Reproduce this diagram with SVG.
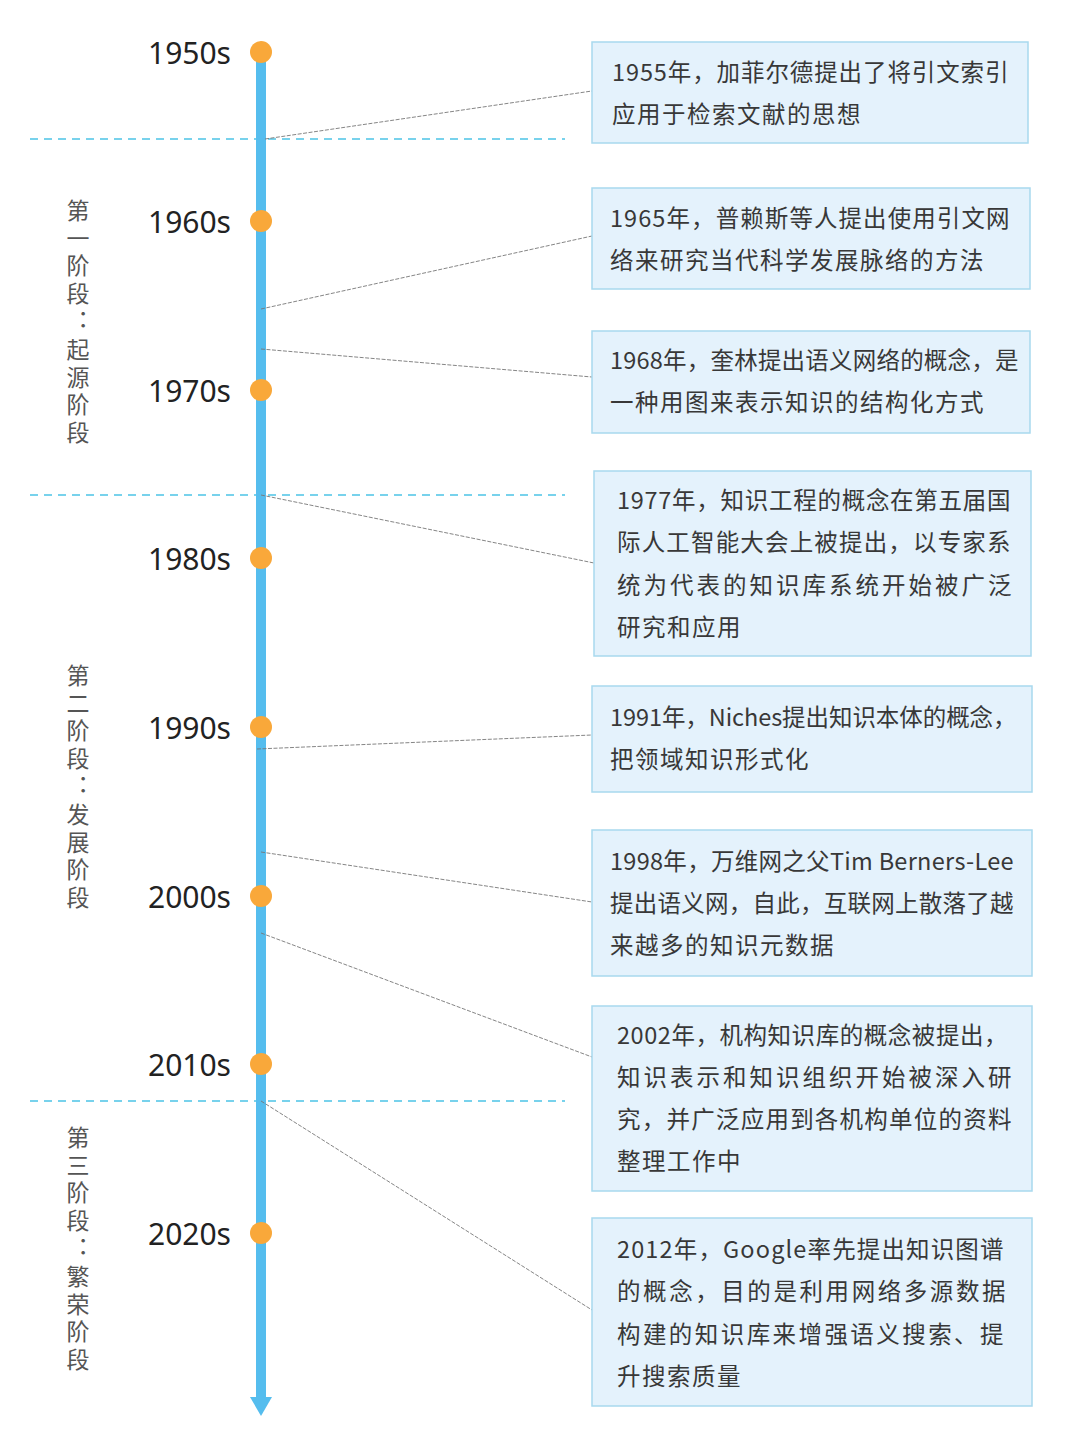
<svg xmlns="http://www.w3.org/2000/svg" width="1080" height="1443" viewBox="0 0 1080 1443">
<style>
.year{font-family:"Noto Sans","Noto Sans CJK SC",sans-serif;font-size:30px;fill:#222;text-anchor:end;dominant-baseline:central}
.dot{fill:#f9a83a}
.sep{stroke:#4cc3e6;stroke-width:1.3;stroke-dasharray:8 6;fill:none}
.box{fill:#e4f2fc;stroke:#a8d9ee;stroke-width:1.5}
.t{font-family:"Noto Sans CJK SC","Noto Sans",sans-serif;font-size:23.5px;letter-spacing:1.5px;fill:#383838;dominant-baseline:central}
.stage{font-family:"Noto Sans CJK SC",sans-serif;font-size:23px;fill:#555;writing-mode:vertical-rl;text-orientation:upright;letter-spacing:4.8px}
.con{stroke:#777;stroke-width:0.9;stroke-dasharray:4 1.5;fill:none}
</style>
<rect width="1080" height="1443" fill="#fff"/>
<g id="separators">
<line class="sep" x1="30" y1="139" x2="565" y2="139"/>
<line class="sep" x1="30" y1="495" x2="565" y2="495"/>
<line class="sep" x1="30" y1="1101" x2="565" y2="1101"/>
</g>
<g id="timeline">
<rect x="256" y="52" width="10" height="1350" fill="#55bdee"/>
<polygon points="250,1397 272,1397 261,1416" fill="#55bdee"/>
</g>
<g id="connectors">
<line class="con" x1="265" y1="139" x2="592" y2="91"/>
<line class="con" x1="261" y1="309" x2="592" y2="236"/>
<line class="con" x1="261" y1="349" x2="592" y2="377"/>
<line class="con" x1="261" y1="495" x2="594" y2="563"/>
<line class="con" x1="257" y1="749" x2="592" y2="735"/>
<line class="con" x1="261" y1="852" x2="592" y2="902"/>
<line class="con" x1="261" y1="933" x2="592" y2="1057"/>
<line class="con" x1="261" y1="1101" x2="592" y2="1310"/>
</g>
<g id="y1950"><circle class="dot" cx="261" cy="52" r="11"/><text class="year" x="231" y="52">1950s</text></g>
<g id="y1960"><circle class="dot" cx="261" cy="221" r="11"/><text class="year" x="231" y="221">1960s</text></g>
<g id="y1970"><circle class="dot" cx="261" cy="390" r="11"/><text class="year" x="231" y="390">1970s</text></g>
<g id="y1980"><circle class="dot" cx="261" cy="558" r="11"/><text class="year" x="231" y="558">1980s</text></g>
<g id="y1990"><circle class="dot" cx="261" cy="727" r="11"/><text class="year" x="231" y="727">1990s</text></g>
<g id="y2000"><circle class="dot" cx="261" cy="896" r="11"/><text class="year" x="231" y="896">2000s</text></g>
<g id="y2010"><circle class="dot" cx="261" cy="1064" r="11"/><text class="year" x="231" y="1064">2010s</text></g>
<g id="y2020"><circle class="dot" cx="261" cy="1233" r="11"/><text class="year" x="231" y="1233">2020s</text></g>
<g id="stage1"><text class="stage" x="78" y="198.5">第一阶段：起源阶段</text></g>
<g id="stage2"><text class="stage" x="78" y="663.5">第二阶段：发展阶段</text></g>
<g id="stage3"><text class="stage" x="78" y="1125.5">第三阶段：繁荣阶段</text></g>
<g id="e1955">
<rect class="box" x="592" y="42" width="436" height="101"/>
<text class="t" x="612" y="71" textLength="398" lengthAdjust="spacing">1955年，加菲尔德提出了将引文索引</text>
<text class="t" x="612" y="113">应用于检索文献的思想</text>
</g>
<g id="e1965">
<rect class="box" x="592" y="188" width="438" height="101"/>
<text class="t" x="610" y="217" textLength="401" lengthAdjust="spacing">1965年，普赖斯等人提出使用引文网</text>
<text class="t" x="610" y="259">络来研究当代科学发展脉络的方法</text>
</g>
<g id="e1968">
<rect class="box" x="592" y="331" width="438" height="102"/>
<text class="t" x="610" y="359" textLength="410" lengthAdjust="spacing">1968年，奎林提出语义网络的概念，是</text>
<text class="t" x="610" y="401">一种用图来表示知识的结构化方式</text>
</g>
<g id="e1977">
<rect class="box" x="594" y="471" width="437" height="185"/>
<text class="t" x="617" y="499" textLength="395" lengthAdjust="spacing">1977年，知识工程的概念在第五届国</text>
<text class="t" x="617" y="541" textLength="395" lengthAdjust="spacing">际人工智能大会上被提出，以专家系</text>
<text class="t" x="617" y="584" textLength="396" lengthAdjust="spacing">统为代表的知识库系统开始被广泛</text>
<text class="t" x="617" y="626">研究和应用</text>
</g>
<g id="e1991">
<rect class="box" x="592" y="686" width="440" height="106"/>
<text class="t" x="610" y="716" textLength="408" lengthAdjust="spacing">1991年，Niches提出知识本体的概念，</text>
<text class="t" x="610" y="758">把领域知识形式化</text>
</g>
<g id="e1998">
<rect class="box" x="592" y="830" width="440" height="146"/>
<text class="t" x="610" y="860" textLength="405" lengthAdjust="spacing">1998年，万维网之父Tim Berners-Lee</text>
<text class="t" x="610" y="902" textLength="405" lengthAdjust="spacing">提出语义网，自此，互联网上散落了越</text>
<text class="t" x="610" y="944">来越多的知识元数据</text>
</g>
<g id="e2002">
<rect class="box" x="592" y="1006" width="440" height="185"/>
<text class="t" x="617" y="1034" textLength="392" lengthAdjust="spacing">2002年，机构知识库的概念被提出，</text>
<text class="t" x="617" y="1076" textLength="396" lengthAdjust="spacing">知识表示和知识组织开始被深入研</text>
<text class="t" x="617" y="1118" textLength="396" lengthAdjust="spacing">究，并广泛应用到各机构单位的资料</text>
<text class="t" x="617" y="1160">整理工作中</text>
</g>
<g id="e2012">
<rect class="box" x="592" y="1218" width="440" height="188"/>
<text class="t" x="617" y="1248" textLength="388" lengthAdjust="spacing">2012年，Google率先提出知识图谱</text>
<text class="t" x="617" y="1290" textLength="390" lengthAdjust="spacing">的概念，目的是利用网络多源数据</text>
<text class="t" x="617" y="1333" textLength="388" lengthAdjust="spacing">构建的知识库来增强语义搜索、提</text>
<text class="t" x="617" y="1375">升搜索质量</text>
</g>
</svg>
